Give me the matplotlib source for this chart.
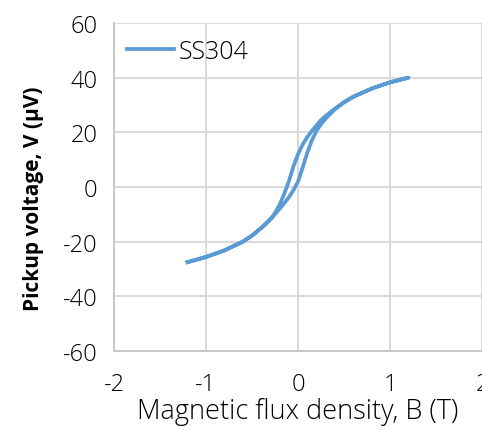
import numpy as np
import matplotlib.pyplot as plt

# hysteresis loop: rising branch then falling branch
b_up = [-1.2, -1.0, -0.8, -0.6, -0.5, -0.4, -0.3, -0.25, -0.2, -0.15, -0.1, -0.05,
        0.0, 0.05, 0.1, 0.15, 0.2, 0.25, 0.3, 0.4, 0.5, 0.6, 0.8, 1.0, 1.2]
v_up = [-27.5, -25.6, -23.2, -20, -17.8, -15, -11.8, -10, -8, -6, -3.8, -1.2,
        2, 7, 12.5, 17, 20.5, 23, 25, 28.4, 31, 33, 36, 38.3, 40]
b_down = [1.2, 1.0, 0.8, 0.6, 0.5, 0.4, 0.3, 0.25, 0.2, 0.15, 0.1, 0.05,
          0.0, -0.05, -0.1, -0.15, -0.2, -0.25, -0.3, -0.4, -0.5, -0.6, -0.8, -1.0, -1.2]
v_down = [40, 38.3, 36, 33, 31, 28.6, 26, 24.5, 22.5, 20.5, 18.2, 15.5,
          12, 7.5, 2, -2.5, -6.5, -9.5, -11.8, -15, -17.8, -20, -23.2, -25.6, -27.5]

B = b_up + b_down
V = v_up + v_down

plt.rcParams['font.family'] = ['Open Sans', 'DejaVu Sans']
plt.rcParams['axes.unicode_minus'] = False

fig = plt.figure(figsize=(4.82, 4.31), dpi=100)
ax = fig.add_axes([114/482, 1-352/431, 1-114/482, (352-24)/431])

ax.plot(B, V, color='#5B9BD5', lw=2.7, label='SS304', solid_joinstyle='round')

ax.set_xlim(-2, 2)
ax.set_ylim(-60, 60)
ax.set_xticks([-2, -1, 0, 1, 2])
ax.set_yticks(np.arange(-60, 61, 20))
ax.grid(True, color='#D9D9D9', lw=1.4)
ax.set_axisbelow(True)
for s in ['top', 'right']:
    ax.spines[s].set_visible(False)
for s in ['left', 'bottom']:
    ax.spines[s].set_color('#C8C8C8')
    ax.spines[s].set_linewidth(1.4)
ax.tick_params(length=0, labelsize=17, colors='#000000', pad=12)
ax.tick_params(axis='x', pad=15)
for t in ax.get_xticklabels() + ax.get_yticklabels():
    t.set_fontweight('light')

ax.set_xlabel('Magnetic flux density, B (T)', fontsize=19.5, fontweight='light', labelpad=1)
ax.set_ylabel('Pickup voltage, V (μV)', fontsize=15, fontweight='bold')
ax.yaxis.set_label_coords(-0.19, 0.466)

leg = ax.legend(loc='upper left', frameon=False, fontsize=18, handlelength=1.9,
                handletextpad=0.2, borderaxespad=0.1, bbox_to_anchor=(0.0, 0.99))
for t in leg.get_texts():
    t.set_fontweight('light')

fig.savefig('out.png', dpi=100)
